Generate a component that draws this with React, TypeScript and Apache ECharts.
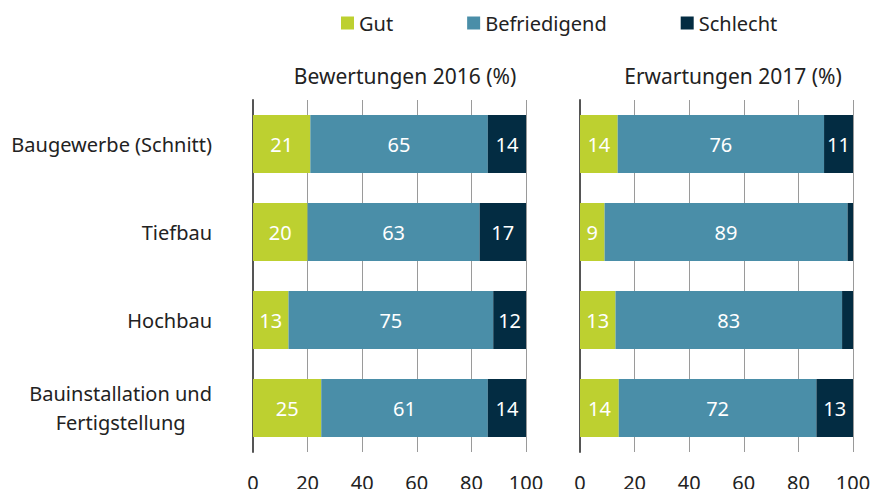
import React, { useEffect, useRef } from "react";
import * as echarts from "echarts";

const categories = ["Baugewerbe (Schnitt)", "Tiefbau", "Hochbau", "Bauinstallation und\nFertigstellung"];
const seriesNames = ["Gut", "Befriedigend", "Schlecht"];
const colors = ["#BDD030", "#4A8EA8", "#032C42"];
const gut2016 = [21, 20, 13, 25];
const befr2016 = [65, 63, 75, 61];
const schl2016 = [14, 17, 12, 14];
const gut2017 = [13.8, 9, 13, 14.2];
const befr2017 = [75.6, 89, 83, 72.4];
const schl2017 = [10.6, 2, 4, 13.4];
const panelTitles = ["Bewertungen 2016 (%)", "Erwartungen 2017 (%)"];
const xTicks = [0, 20, 40, 60, 80, 100];

const FONT = "Noto Sans";

export default function App() {
  const ref = useRef<HTMLDivElement>(null);
  useEffect(() => {
    if (!ref.current) return;
    const chart = echarts.init(ref.current, null, { renderer: "svg" });
    const grids = [
      { left: 253, width: 273, top: 100, bottom: 45 },
      { left: 580, width: 273, top: 100, bottom: 45 },
    ];
    const xAxes = grids.map((_, i) => ({
      type: "value",
      gridIndex: i,
      min: xTicks[0],
      max: xTicks[xTicks.length - 1],
      interval: 20,
      axisLine: { show: false },
      axisTick: { show: false },
      splitLine: { show: true, lineStyle: { color: "#9a9a9a", width: 1 } },
      axisLabel: { color: "#222", fontFamily: FONT, fontSize: 20, margin: 20 },
    }));
    const yAxes = grids.map((_, i) => ({
      type: "category",
      gridIndex: i,
      data: categories,
      inverse: true,
      axisLine: { show: true, lineStyle: { color: "#555", width: 2 } },
      axisTick: { show: false },
      axisLabel: {
        show: i === 0,
        margin: 41,
        color: "#222",
        fontFamily: FONT,
        fontSize: 20,
        lineHeight: 29,
        formatter: (v: string) => v.split("\n").map((l) => `{c|${l}}`).join("\n"),
        rich: { c: { align: "center", color: "#222", fontFamily: FONT, fontSize: 20, lineHeight: 29 } },
      },
    }));
    const data = [
      [gut2016, befr2016, schl2016],
      [gut2017, befr2017, schl2017],
    ];
    const series: any[] = [];
    data.forEach((panel, p) => {
      panel.forEach((vals, s) => {
        series.push({
          name: seriesNames[s],
          type: "bar",
          stack: "p" + p,
          xAxisIndex: p,
          yAxisIndex: p,
          barWidth: 58,
          data: vals,
          itemStyle: { color: colors[s] },
          label: {
            show: true,
            position: "inside",
            color: "#fff",
            fontFamily: FONT,
            fontSize: 20,
            formatter: (d: any) => (d.value >= 5 ? String(Math.round(d.value)) : ""),
          },
        });
      });
    });
    chart.setOption({
      animation: false,
      textStyle: { fontFamily: FONT },
      legend: {
        data: seriesNames,
        top: 8,
        left: 336,
        icon: "rect",
        itemWidth: 13,
        itemHeight: 13,
        itemGap: 74,
        textStyle: { color: "#222", fontFamily: FONT, fontSize: 20 },
      },
      title: [
        { text: panelTitles[0], left: 400, top: 60, textAlign: "center", textStyle: { color: "#222", fontFamily: FONT, fontSize: 21, fontWeight: "normal" } },
        { text: panelTitles[1], left: 728, top: 60, textAlign: "center", textStyle: { color: "#222", fontFamily: FONT, fontSize: 21, fontWeight: "normal" } },
      ],
      grid: grids,
      xAxis: xAxes,
      yAxis: yAxes,
      series,
    });
    return () => chart.dispose();
  }, []);
  return <div ref={ref} style={{ width: 879, height: 497, margin: -8 }} />;
}
